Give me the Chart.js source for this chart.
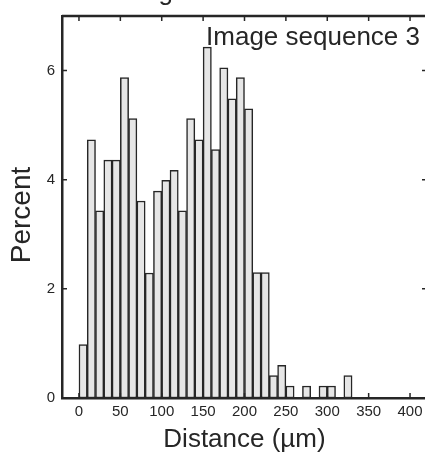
<!DOCTYPE html>
<html>
<head>
<meta charset="utf-8">
<script src="https://cdn.jsdelivr.net/npm/chart.js@4/dist/chart.umd.min.js"></script>
<style>
  html, body { margin: 0; padding: 0; background: #ffffff; overflow: hidden; }
  #wrap { width: 430px; height: 455px; }
</style>
</head>
<body>
<div id="wrap"><canvas id="c" width="430" height="455"></canvas></div>
<script>
// ---- data ----
const binCenters = [5, 15, 25, 35, 45, 55, 65, 75, 85, 95, 105, 115, 125, 135, 145, 155, 165,
                    175, 185, 195, 205, 215, 225, 235, 245, 255, 265, 275, 285, 295, 305, 315, 325];
const percentValues = [0.98, 4.73, 3.43, 4.36, 4.36, 5.87, 5.12, 3.61, 2.29, 3.79, 3.99, 4.17, 3.43,
                       5.12, 4.73, 6.43, 4.55, 6.05, 5.48, 5.87, 5.30, 2.30, 2.30, 0.41, 0.60, 0.22,
                       0, 0.22, 0, 0.22, 0.22, 0, 0.41];
const xTickValues = [0, 50, 100, 150, 200, 250, 300, 350, 400];
const yTickValues = [0, 2, 4, 6];
const titleText = "Length of connections";
const annotationText = "Image sequence 3";
const xAxisTitle = "Distance (\u00b5m)";
const yAxisTitle = "Percent";

const INK = "#262626";
const FONT = "'Liberation Sans', Arial, Helvetica, sans-serif";

const framePlugin = {
  id: 'frame',
  afterDatasetsDraw(chart) {
    const {ctx, chartArea: a, scales: {x, y}} = chart;
    ctx.save();
    ctx.strokeStyle = INK;
    ctx.lineWidth = 2.5;
    ctx.beginPath();
    ctx.moveTo(a.left, a.top); ctx.lineTo(a.right, a.top);
    ctx.moveTo(a.right, a.top); ctx.lineTo(a.right, a.bottom);
    ctx.stroke();
    const tl = 5;
    ctx.lineWidth = 1.5;
    ctx.beginPath();
    xTickValues.forEach(v => {
      const px = x.getPixelForValue(v);
      ctx.moveTo(px, a.top); ctx.lineTo(px, a.top + tl);
      ctx.moveTo(px, a.bottom); ctx.lineTo(px, a.bottom - tl);
    });
    yTickValues.forEach(v => {
      const py = y.getPixelForValue(v);
      ctx.moveTo(a.left, py); ctx.lineTo(a.left + tl, py);
      ctx.moveTo(a.right, py); ctx.lineTo(a.right - tl, py);
    });
    ctx.stroke();
    ctx.restore();
  },
  afterDraw(chart) {
    const {ctx, scales: {y}} = chart;
    ctx.save();
    ctx.fillStyle = INK;
    ctx.font = "26px " + FONT;
    ctx.textBaseline = 'alphabetic';
    ctx.textAlign = 'left';
    ctx.fillText(titleText, 115, 0);
    ctx.textAlign = 'right';
    ctx.fillText(annotationText, 420, 45);
    // y-axis title
    ctx.font = "28px " + FONT;
    ctx.textAlign = 'center';
    ctx.textBaseline = 'middle';
    ctx.translate(22, (y.top + y.bottom) / 2 + 8);
    ctx.rotate(-Math.PI / 2);
    ctx.fillText(yAxisTitle, 0, 0);
    ctx.restore();
  }
};

new Chart(document.getElementById('c'), {
  type: 'bar',
  data: {
    datasets: [{
      data: binCenters.map((c, i) => ({x: c, y: percentValues[i]})),
      backgroundColor: '#e6e6e6',
      borderColor: INK,
      borderWidth: 1.5,
      borderSkipped: false,
      barPercentage: 1,
      categoryPercentage: 1
    }]
  },
  options: {
    responsive: false,
    animation: false,
    events: [],
    layout: { padding: { top: 14, right: 3, left: 0, bottom: 0 } },
    plugins: { legend: { display: false }, tooltip: { enabled: false }, title: { display: false } },
    scales: {
      x: {
        type: 'linear',
        position: 'bottom',
        offset: false,
        min: -20.5,
        max: 420.5,
        grid: { display: false, drawTicks: false },
        border: { display: true, color: INK, width: 2.5 },
        ticks: { color: INK, font: { family: FONT, size: 15 }, padding: 5, autoSkip: false, maxRotation: 0 },
        afterBuildTicks: s => { s.ticks = xTickValues.map(v => ({value: v})); },
        afterFit: s => { s.height = 57; },
        title: { display: true, text: xAxisTitle, color: INK, font: { family: FONT, size: 26 }, padding: { top: 0, bottom: 0 } }
      },
      y: {
        min: 0,
        max: 7,
        grid: { display: false, drawTicks: false },
        border: { display: true, color: INK, width: 2.5 },
        ticks: { color: INK, font: { family: FONT, size: 15 }, padding: 7 },
        afterBuildTicks: s => { s.ticks = yTickValues.map(v => ({value: v})); },
        afterFit: s => { s.width = 62; },
        title: { display: false, text: yAxisTitle }
      }
    }
  },
  plugins: [framePlugin]
});
</script>
</body>
</html>
